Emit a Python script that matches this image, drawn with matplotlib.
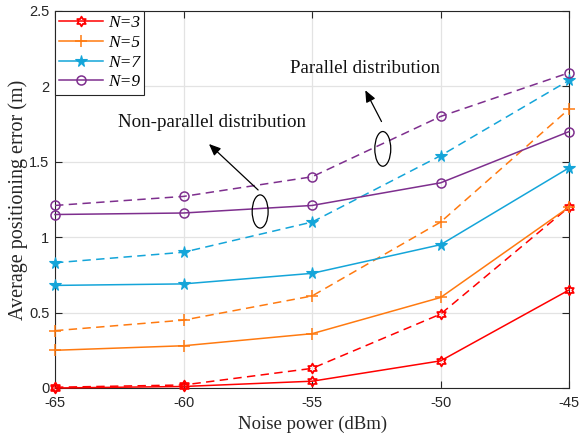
import numpy as np
import matplotlib
matplotlib.use("Agg")
import matplotlib.pyplot as plt
from matplotlib.path import Path
from matplotlib.patches import Ellipse

noise_power = [-65, -60, -55, -50, -45]

# Solid lines: non-parallel distribution; dashed: parallel distribution
err_n3_nonpar = [0.00, 0.01, 0.045, 0.18, 0.65]
err_n3_par = [0.005, 0.02, 0.13, 0.49, 1.20]
err_n5_nonpar = [0.25, 0.28, 0.36, 0.60, 1.20]
err_n5_par = [0.38, 0.45, 0.61, 1.10, 1.85]
err_n7_nonpar = [0.68, 0.69, 0.76, 0.95, 1.46]
err_n7_par = [0.83, 0.90, 1.10, 1.54, 2.04]
err_n9_nonpar = [1.15, 1.16, 1.21, 1.36, 1.70]
err_n9_par = [1.21, 1.27, 1.40, 1.80, 2.09]

series_labels = ["N=3", "N=5", "N=7", "N=9"]
xtick_labels = ["-65", "-60", "-55", "-50", "-45"]
ytick_values = [0, 0.5, 1, 1.5, 2, 2.5]
ytick_labels = ["0", "0.5", "1", "1.5", "2", "2.5"]

# Six-pointed star marker
ang_out = np.deg2rad(90 + 60 * np.arange(6))
ang_in = ang_out + np.deg2rad(30)
r_in = 1 / np.sqrt(3)
verts = []
for ao, ai in zip(ang_out, ang_in):
    verts.append((np.cos(ao), np.sin(ao)))
    verts.append((r_in * np.cos(ai), r_in * np.sin(ai)))
verts.append(verts[0])
codes = [Path.MOVETO] + [Path.LINETO] * 11 + [Path.CLOSEPOLY]
hexagram = Path(verts, codes)

red = "#FF0000"
orange = "#FF7A10"
blue = "#14A5D9"
purple = "#7E2F8E"

fig = plt.figure(figsize=(5.79, 4.34), dpi=100)
ax = fig.add_axes([0.095, 0.106, 0.888, 0.869])

dash = (0, (5.5, 3.5))
lw = 1.1

styles = [
    (err_n3_nonpar, err_n3_par, red, dict(marker=hexagram, markersize=7, markerfacecolor="none", markeredgewidth=1.3)),
    (err_n5_nonpar, err_n5_par, orange, dict(marker="+", markersize=8, markeredgewidth=1.1)),
    (err_n7_nonpar, err_n7_par, blue, dict(marker="*", markersize=8.5, markeredgewidth=0.8)),
    (err_n9_nonpar, err_n9_par, purple, dict(marker="o", markersize=6.5, markerfacecolor="none", markeredgewidth=1.1)),
]

handles = []
for (solid, dashed, color, mk), label in zip(styles, series_labels):
    h, = ax.plot(noise_power, solid, color=color, lw=lw, label=label, clip_on=False, zorder=3, **mk)
    ax.plot(noise_power, dashed, color=color, lw=lw, linestyle=dash, clip_on=False, zorder=3, **mk)
    handles.append(h)

ax.set_xlim(-65, -45)
ax.set_ylim(0, 2.5)
ax.set_xticks(noise_power)
ax.set_xticklabels(xtick_labels)
ax.set_yticks(ytick_values)
ax.set_yticklabels(ytick_labels)

ax.grid(True, color="#E3E3E3", linewidth=0.9)
ax.set_axisbelow(True)
for sp in ax.spines.values():
    sp.set_color("#262626")
    sp.set_linewidth(0.8)
ax.tick_params(direction="in", length=5, width=0.8, top=True, right=True,
               colors="#262626", labelsize=10.5)
ax.tick_params(axis="x", pad=6)
ax.tick_params(axis="y", pad=4)
for lab in ax.get_xticklabels() + ax.get_yticklabels():
    lab.set_family("Liberation Sans")

ax.set_xlabel("Noise power (dBm)", family="Liberation Serif", fontsize=13.5, color="#262626", labelpad=4)
ax.set_ylabel("Average positioning error (m)", family="Liberation Serif", fontsize=14.5, color="#262626", labelpad=1)

# Annotation groups
ax.add_patch(Ellipse((-57.02, 1.17), 0.62, 0.22, fill=False, edgecolor="black", lw=0.9, zorder=4))
ax.add_patch(Ellipse((-52.25, 1.585), 0.62, 0.23, fill=False, edgecolor="black", lw=0.9, zorder=4))
ax.annotate("", xy=(-59.09, 1.63), xytext=(-57.02, 1.30),
            arrowprops=dict(arrowstyle="-|>,head_length=0.7,head_width=0.3", color="black", lw=0.9))
ax.annotate("", xy=(-52.98, 1.99), xytext=(-52.25, 1.75),
            arrowprops=dict(arrowstyle="-|>,head_length=0.7,head_width=0.3", color="black", lw=0.9))
ax.text(-55.86, 2.115, "Parallel distribution", family="Liberation Serif", fontsize=13.7,
        ha="left", va="center", color="#111111")
ax.text(-62.55, 1.76, "Non-parallel distribution", family="Liberation Serif", fontsize=13.7,
        ha="left", va="center", color="#111111")

leg = ax.legend(handles=handles, loc="upper left", borderaxespad=0, fancybox=False,
                framealpha=1, edgecolor="#262626",
                prop=dict(family="Liberation Serif", style="italic", size=12.5),
                handlelength=2.5, handletextpad=0.3, labelspacing=0.2, borderpad=0.25)
leg.get_frame().set_linewidth(0.8)

fig.savefig("out.png", dpi=100)
